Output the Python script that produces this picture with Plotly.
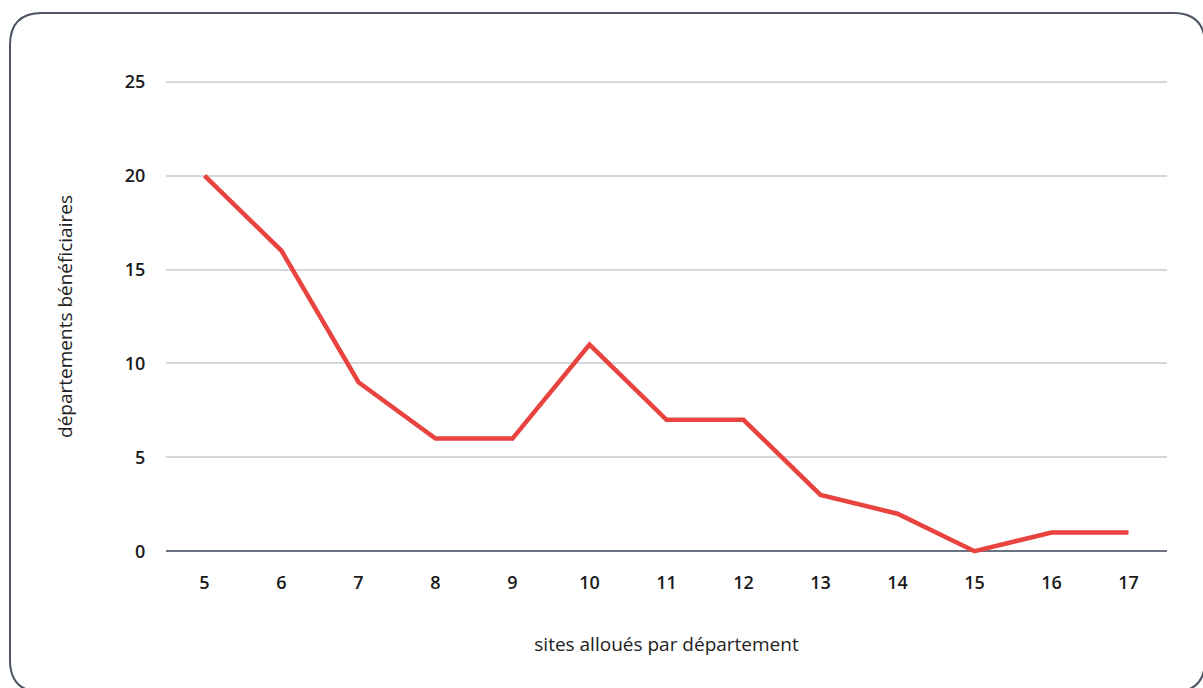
import plotly.graph_objects as go

sites = [5, 6, 7, 8, 9, 10, 11, 12, 13, 14, 15, 16, 17]
departements = [20, 16, 9, 6, 6, 11, 7, 7, 3, 2, 0, 1, 1]
y_ticks = [0, 5, 10, 15, 20, 25]

W, H = 1203, 688
ml, mr, mt, mb = 166, 36, 78, 133
pw, ph = W - ml - mr, H - mt - mb

fig = go.Figure()
fig.add_trace(go.Scatter(
    x=sites, y=departements, mode="lines",
    line=dict(color="#e8433f", width=4.5),
    hoverinfo="x+y", showlegend=False,
))

def px_x(p):
    return (p - ml) / pw

def px_y(p):
    return (H - mb - p) / ph

# rounded frame (in pixels -> paper)
x0, x1, y0, y1, r = 10, 1205, 13, 692, 32
path = (
    f"M {px_x(x0 + r)},{px_y(y0)} L {px_x(x1 - r)},{px_y(y0)} "
    f"Q {px_x(x1)},{px_y(y0)} {px_x(x1)},{px_y(y0 + r)} "
    f"L {px_x(x1)},{px_y(y1 - r)} Q {px_x(x1)},{px_y(y1)} {px_x(x1 - r)},{px_y(y1)} "
    f"L {px_x(x0 + r)},{px_y(y1)} Q {px_x(x0)},{px_y(y1)} {px_x(x0)},{px_y(y1 - r)} "
    f"L {px_x(x0)},{px_y(y0 + r)} Q {px_x(x0)},{px_y(y0)} {px_x(x0 + r)},{px_y(y0)} Z"
)
fig.add_shape(type="path", path=path, xref="paper", yref="paper",
              line=dict(color="#4d5566", width=2), layer="below")

fig.update_layout(
    width=W, height=H,
    margin=dict(l=ml, r=mr, t=mt, b=mb),
    paper_bgcolor="white", plot_bgcolor="white",
    font=dict(family="Open Sans", color="#1a1a1a"),
    xaxis=dict(
        range=[4.5, 17.5], tickmode="array", tickvals=sites,
        ticktext=[str(s) for s in sites],
        showgrid=False, zeroline=False, showline=False,
        ticks="outside", ticklen=11, tickcolor="rgba(0,0,0,0)",
        tickfont=dict(size=18, family="Open Sans", weight=600, color="#1a1a1a"),
        title=dict(text="sites alloués par département", standoff=45,
                   font=dict(size=19, family="Open Sans", color="#222")),
        fixedrange=True,
    ),
    yaxis=dict(
        range=[-0.2, 25.2], tickmode="array", tickvals=y_ticks,
        showgrid=True, gridcolor="#d3d8de", gridwidth=2,
        zeroline=True, zerolinecolor="#6b7382", zerolinewidth=2,
        showline=False,
        ticks="outside", ticklen=16, tickcolor="rgba(0,0,0,0)",
        tickfont=dict(size=18, family="Open Sans", weight=600, color="#1a1a1a"),
        title=dict(text="départements bénéficiaires", standoff=47,
                   font=dict(size=19, family="Open Sans", color="#222")),
        fixedrange=True,
    ),
)

fig.write_html("out.html", config={"displayModeBar": False},
               post_script="document.body.style.margin='0';document.body.style.overflow='hidden';")
